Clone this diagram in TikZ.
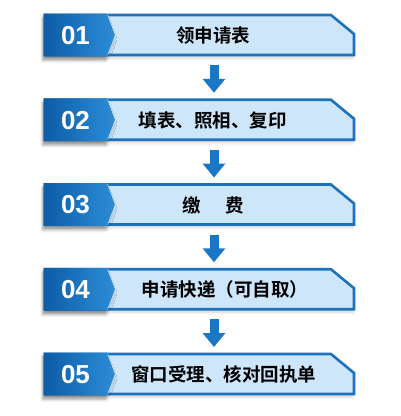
\documentclass[tikz,border=0pt]{standalone}
\usepackage{fontspec}
\setmainfont{Liberation Sans}
\newfontfamily\cjk{Noto Sans CJK SC Bold}
\usetikzlibrary{arrows.meta,calc,shadows.blur}
\definecolor{lightfill}{HTML}{CDE6FA}
\definecolor{borderblue}{HTML}{1C72BD}
\definecolor{tabdark}{HTML}{0D5CA6}
\definecolor{tablight}{HTML}{2C8DD8}
\definecolor{arrowblue}{HTML}{1A77C6}
\begin{document}
\begin{tikzpicture}[x=1pt,y=-1pt]
\useasboundingbox (0,0) rectangle (400,416);
\tikzset{
  boxfill/.style={fill=lightfill, draw=borderblue, line width=2.6pt, line join=miter,
    blur shadow={shadow xshift=-1pt, shadow yshift=-3pt, shadow blur radius=3pt, shadow opacity=18}},
  tabfill/.style={left color=tabdark, right color=tablight, draw=none,
    blur shadow={shadow xshift=-1pt, shadow yshift=-4pt, shadow blur radius=3pt, shadow opacity=35}},
  tabedge/.style={draw=white, draw opacity=0.45, line width=0.8pt},
  numtext/.style={text=white, font=\fontsize{26}{26}\selectfont\bfseries, inner sep=0pt},
  labtext/.style={text=black, font=\cjk\fontsize{18.5}{18.5}\selectfont, inner sep=0pt},
  flowarrow/.style={draw=arrowblue, line width=9pt, -{Triangle[width=22pt,length=14pt]}}
}
\foreach \i/\t/\num/\lab/\lx in {1/15/01/{领申请表}/213,
                                 2/99.75/02/{填表、照相、复印}/213,
                                 3/184.5/03/{缴\hspace{1.3em}费}/213.5,
                                 4/269.25/04/{申请快递（可自取）}/225,
                                 5/354/05/{窗口受理、核对回执单}/224}{
  \path[boxfill] (45,\t) -- (331,\t) -- (354,{\t+19}) -- (354,{\t+40}) -- (45,{\t+40}) -- cycle;
  \path[tabfill] (43.7,{\t-1.3}) -- (107,{\t-1.3}) -- (115,{\t+20}) -- (107,{\t+41.3}) -- (43.7,{\t+41.3}) -- cycle;
  \draw[tabedge] (107.5,{\t-0.5}) -- (115.5,{\t+20}) -- (107.5,{\t+40.5});
  \node[numtext] (n\i) at (75.5,{\t+20.5}) {\num};
  \node[labtext] (l\i) at (\lx,{\t+20.5}) {\lab};
  \coordinate (top\i) at (214,\t);
  \coordinate (bot\i) at (214,{\t+40});
}
\foreach \a/\b in {1/2,2/3,3/4,4/5}{
  \draw[flowarrow] ($(bot\a)+(0,10)$) -- ($(top\b)+(0,-7)$);
}
\end{tikzpicture}
\end{document}
